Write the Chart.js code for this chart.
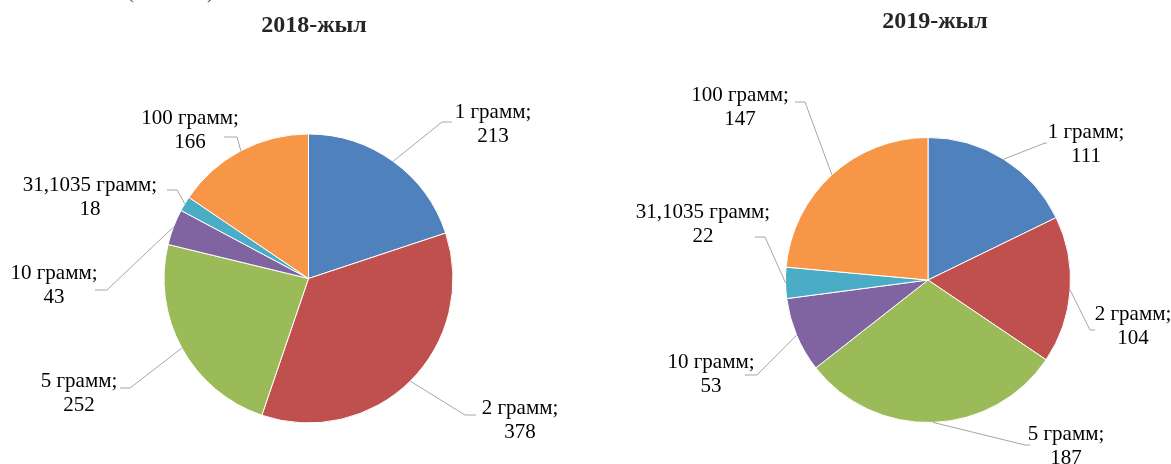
<!DOCTYPE html>
<html>
<head>
<meta charset="utf-8">
<script src="https://cdn.jsdelivr.net/npm/chart.js@4/dist/chart.umd.min.js"></script>
<style>
html, body { margin:0; padding:0; background:#fff; }
#wrap { position:relative; width:1171px; height:464px; overflow:hidden; }
.box { position:absolute; top:0; height:464px; }
#box1 { left:0; width:585px; }
#box2 { left:585px; width:586px; }
</style>
</head>
<body>
<div id="wrap">
  <div class="box" id="box1"><canvas id="pie1"></canvas></div>
  <div class="box" id="box2"><canvas id="pie2"></canvas></div>
</div>
<script>
// --- Data ---
const categories = ['1 грамм', '2 грамм', '5 грамм', '10 грамм', '31,1035 грамм', '100 грамм'];
const values2018 = [213, 378, 252, 43, 18, 166];
const values2019 = [111, 104, 187, 53, 22, 147];
const titles = ['2018-жыл', '2019-жыл'];
const unitNote = '(млн сом)';

const colors = ['#4F81BD', '#C0504D', '#9BBB59', '#8064A2', '#4BACC6', '#F79646'];
const FONT = '"Liberation Serif", "Times New Roman", serif';

// label placement, offsets from the pie centre:
// e = leader elbow, h = end of the short horizontal piece, t = centre of the text block
const layout1 = [
  { e:[133.5,-156.5], h:143.5, t:[184.5,-154.5] },
  { e:[156.5, 136.5], h:167.5, t:[211.5, 141.5] },
  { e:[-178.5,109.5], h:-188.5, t:[-229.5,114.5] },
  { e:[-201.5, 11.5], h:-213.5, t:[-254.5,  6.5] },
  { e:[-131.5,-88.5], h:-141.5, t:[-218.5,-81.5] },
  { e:[-71.5,-141.5], h:-84.5,  t:[-118.5,-148.5] }
];
const layout2 = [
  { e:[117,-137], h:119,  t:[158,-136] },
  { e:[162,  50], h:167,  t:[205,  46] },
  { e:[ 97, 165], h:102,  t:[138, 166] },
  { e:[-171, 95], h:-183, t:[-217, 94] },
  { e:[-163,-43], h:-173, t:[-225,-56] },
  { e:[-123,-178], h:-133, t:[-188,-173] }
];

// leader lines + two-line labels + chart heading
const pieLabels = {
  id: 'pieLabels',
  afterDraw(chart, args, opts) {
    const ctx = chart.ctx;
    const meta = chart.getDatasetMeta(0);
    const ds = chart.data.datasets[0];
    ctx.save();
    meta.data.forEach((arc, i) => {
      const p = arc.getProps(['x','y','startAngle','endAngle','outerRadius'], true);
      const mid = (p.startAngle + p.endAngle) / 2;
      const sx = p.x + Math.cos(mid) * p.outerRadius;
      const sy = p.y + Math.sin(mid) * p.outerRadius;
      const L = opts.layout[i];
      ctx.strokeStyle = '#A6A6A6';
      ctx.lineWidth = 1;
      ctx.beginPath();
      ctx.moveTo(sx, sy);
      ctx.lineTo(p.x + L.e[0], p.y + L.e[1]);
      ctx.lineTo(p.x + L.h, p.y + L.e[1]);
      ctx.stroke();

      ctx.fillStyle = '#000';
      ctx.font = '21px ' + FONT;
      ctx.textAlign = 'center';
      ctx.textBaseline = 'middle';
      const tx = p.x + L.t[0], ty = p.y + L.t[1];
      ctx.fillText(chart.data.labels[i] + ';', tx, ty - 12);
      ctx.fillText(String(ds.data[i]), tx, ty + 12);
    });

    ctx.font = 'bold 24px ' + FONT;
    ctx.fillStyle = '#262626';
    ctx.textAlign = 'center';
    ctx.textBaseline = 'middle';
    ctx.fillText(opts.title, opts.titleX, opts.titleY);
    if (opts.note) {
      ctx.font = '21px ' + FONT;
      ctx.fillStyle = '#595959';
      ctx.textAlign = 'left';
      ctx.textBaseline = 'alphabetic';
      ctx.fillText(opts.note, 127, -2);
    }
    ctx.restore();
  }
};

function makePie(id, values, layout, padding, title, titleX, titleY, note) {
  return new Chart(document.getElementById(id), {
    type: 'pie',
    data: {
      labels: categories,
      datasets: [{
        data: values,
        backgroundColor: colors,
        borderColor: '#fff',
        borderWidth: 1
      }]
    },
    options: {
      responsive: true,
      maintainAspectRatio: false,
      animation: false,
      layout: { padding },
      plugins: {
        legend: { display: false },
        tooltip: { enabled: false },
        pieLabels: { layout, title, titleX, titleY, note }
      }
    },
    plugins: [pieLabels]
  });
}

makePie('pie1', values2018, layout1,
  { left:163.5, right:131.5, top:133.5, bottom:40.5 }, titles[0], 314, 26, unitNote);
makePie('pie2', values2019, layout2,
  { left:200, right:100, top:137, bottom:41 }, titles[1], 935 - 585, 22, null);
</script>
</body>
</html>
